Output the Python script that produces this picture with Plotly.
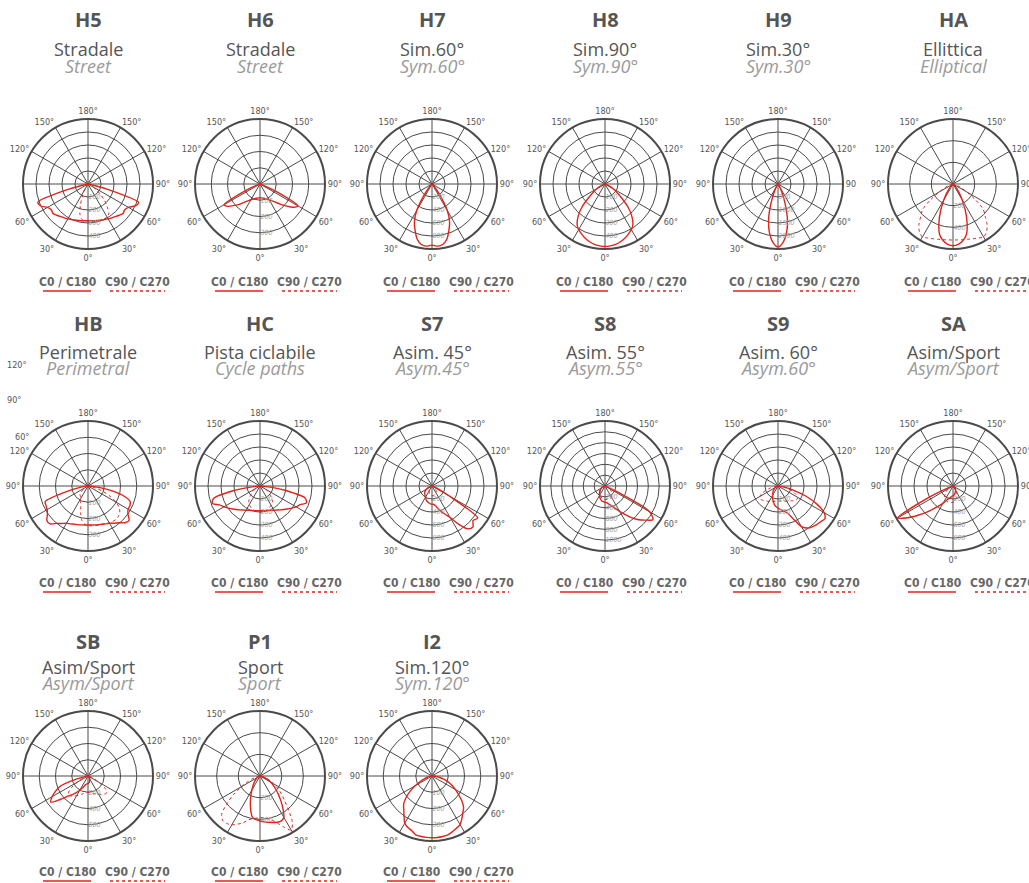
import plotly.graph_objects as go

# ---------------- data ----------------
GAMMA = [0, 5, 10, 15, 20, 25, 30, 35, 40, 45, 50, 55, 60, 65, 70, 75, 80, 85, 90]

CODES = ["H5", "H6", "H7", "H8", "H9", "HA", "HB", "HC", "S7", "S8", "S9", "SA", "SB", "P1", "I2"]
NAMES_IT = ["Stradale", "Stradale", "Sim.60°", "Sim.90°", "Sim.30°", "Ellittica",
            "Perimetrale", "Pista ciclabile", "Asim. 45°", "Asim. 55°", "Asim. 60°", "Asim/Sport",
            "Asim/Sport", "Sport", "Sim.120°"]
NAMES_EN = ["Street", "Street", "Sym.60°", "Sym.90°", "Sym.30°", "Elliptical",
            "Perimetral", "Cycle paths", "Asym.45°", "Asym.55°", "Asym.60°", "Asym/Sport",
            "Asym/Sport", "Sport", "Sym.120°"]
R_MAX = [500, 400, 1000, 500, 2500, 600, 400, 500, 1000, 1200, 500, 1000, 800, 600, 400]
R_TICKS = [[100, 200, 300, 400], [100, 200, 300], [200, 400, 600, 800], [100, 200, 300, 400],
           [500, 1000, 1500, 2000], [200, 400], [100, 200, 300], [100, 200, 300, 400],
           [200, 400, 600, 800], [200, 400, 600, 800, 1000], [100, 200, 300, 400],
           [200, 400, 600, 800], [200, 400, 600], [200, 400], [100, 200, 300]]

ANG_TICKS = [0, 30, 60, 90, 120, 150, 180, 210, 240, 270, 300, 330]
ANG_LABELS = ["0°", "30°", "60°", "90°", "120°", "150°", "180°", "150°", "120°", "90°", "60°", "30°"]
ANG_LABELS_H5 = ["0°", "30°", "60°", "90°", "120°", "150°", "180°", "150°", "120°", "", "60°", "30°"]
ANG_LABELS_H9 = ["0°", "30°", "60°", "90", "120°", "150°", "180°", "150°", "120°", "90°", "60°", "30°"]

# intensity (cd/klm) per gamma; C0 = right half, C180 = left half, C90 right, C270 left
H5_C0 = [282, 284, 287, 290, 295, 302, 310, 318, 328, 340, 352, 345, 360, 400, 415, 150, 20, 5, 0]
H5_C180 = [282, 284, 287, 290, 295, 302, 310, 318, 328, 340, 352, 345, 360, 400, 410, 150, 20, 5, 0]
H5_C90 = [287, 290, 292, 295, 297, 296, 292, 280, 230, 180, 125, 80, 45, 25, 10, 4, 0, 0, 0]
H5_C270 = [287, 282, 275, 240, 170, 100, 60, 35, 20, 10, 5, 2, 0, 0, 0, 0, 0, 0, 0]

H6_C0 = [85, 86, 88, 91, 96, 103, 112, 125, 145, 175, 210, 250, 270, 115, 15, 0, 0, 0, 0]
H6_C180 = [85, 86, 88, 91, 96, 103, 112, 125, 145, 175, 205, 240, 255, 110, 15, 0, 0, 0, 0]

H7_C0 = [940, 960, 945, 880, 760, 640, 470, 220, 80, 30, 10, 0, 0, 0, 0, 0, 0, 0, 0]
H8_C0 = [481, 478, 472, 460, 445, 425, 405, 375, 320, 250, 165, 110, 70, 35, 15, 5, 0, 0, 0]
H9_C0 = [2420, 2250, 1900, 1400, 800, 350, 150, 60, 20, 0, 0, 0, 0, 0, 0, 0, 0, 0, 0]

HA_C0 = [570, 560, 530, 480, 380, 270, 170, 100, 55, 25, 10, 0, 0, 0, 0, 0, 0, 0, 0]
HA_C90 = [517, 518, 522, 528, 538, 550, 565, 540, 490, 420, 365, 250, 150, 85, 45, 20, 5, 0, 0]

HB_C0 = [240, 241, 243, 246, 250, 257, 265, 280, 295, 320, 330, 300, 285, 285, 275, 220, 120, 40, 0]
HB_C180 = [240, 241, 243, 246, 250, 257, 265, 282, 300, 330, 330, 305, 290, 285, 280, 150, 50, 10, 0]
HB_C90 = [245, 246, 248, 250, 252, 256, 262, 266, 268, 265, 255, 235, 200, 150, 100, 50, 15, 0, 0]
HB_C270 = [245, 235, 215, 175, 130, 110, 90, 80, 75, 70, 50, 35, 25, 15, 10, 5, 0, 0, 0]

HC_C0 = [190, 191, 192, 196, 200, 207, 215, 226, 240, 256, 275, 296, 320, 340, 380, 360, 200, 50, 0]
HC_C180 = [190, 191, 192, 196, 200, 207, 215, 226, 240, 256, 275, 296, 320, 345, 390, 370, 210, 50, 0]
HC_C90 = [200, 198, 196, 193, 190, 180, 170, 160, 150, 120, 95, 75, 60, 40, 20, 10, 0, 0, 0]
HC_C270 = [200, 198, 195, 190, 185, 175, 165, 150, 130, 105, 80, 60, 40, 25, 12, 5, 0, 0, 0]

S7_C0 = [280, 285, 310, 360, 420, 480, 560, 720, 860, 890, 825, 860, 300, 80, 20, 0, 0, 0, 0]
S7_C180 = [280, 275, 265, 255, 240, 220, 200, 185, 170, 158, 145, 125, 100, 70, 40, 20, 10, 0, 0]
S7_C90 = [150, 150, 148, 145, 140, 130, 120, 110, 100, 80, 60, 50, 40, 25, 15, 5, 0, 0, 0]
S7_C270 = [150, 148, 140, 130, 120, 105, 90, 80, 70, 55, 45, 30, 20, 10, 5, 0, 0, 0, 0]

S8_C0 = [300, 310, 330, 360, 400, 460, 540, 640, 760, 880, 980, 1080, 950, 200, 30, 0, 0, 0, 0]
S8_C180 = [300, 295, 285, 270, 250, 230, 205, 180, 160, 140, 120, 100, 80, 60, 40, 20, 5, 0, 0]
S8_C90 = [250, 250, 248, 245, 240, 230, 220, 205, 190, 170, 150, 120, 90, 60, 30, 10, 0, 0, 0]
S8_C270 = [250, 248, 240, 230, 215, 200, 180, 160, 140, 120, 100, 80, 60, 40, 20, 5, 0, 0, 0]

S9_C0 = [175, 180, 190, 205, 225, 280, 360, 395, 410, 420, 428, 440, 410, 330, 230, 120, 50, 10, 0]
S9_C180 = [170, 160, 150, 130, 115, 100, 80, 70, 60, 50, 40, 32, 25, 18, 10, 5, 0, 0, 0]
S9_C90 = [115, 116, 118, 122, 125, 130, 137, 143, 150, 160, 170, 178, 175, 150, 120, 80, 40, 10, 0]
S9_C270 = [115, 116, 118, 122, 125, 130, 137, 143, 150, 158, 165, 172, 160, 140, 100, 60, 25, 10, 0]

SA_C0 = [150, 145, 130, 115, 100, 90, 80, 70, 60, 50, 40, 30, 20, 10, 5, 0, 0, 0, 0]
SA_C180 = [150, 155, 170, 190, 210, 250, 300, 370, 450, 570, 700, 850, 980, 380, 80, 20, 0, 0, 0]
SA_C90 = [250, 240, 220, 200, 180, 150, 120, 100, 80, 60, 40, 25, 15, 5, 0, 0, 0, 0, 0]
SA_C270 = [250, 255, 260, 260, 255, 245, 230, 215, 200, 170, 140, 110, 80, 50, 25, 10, 0, 0, 0]

SB_C0 = [90, 85, 80, 70, 60, 50, 40, 32, 25, 20, 15, 12, 10, 5, 3, 0, 0, 0, 0]
SB_C180 = [90, 95, 100, 110, 130, 160, 200, 250, 300, 350, 450, 560, 510, 440, 360, 150, 40, 0, 0]
SB_C90 = [200, 203, 210, 220, 230, 245, 260, 275, 290, 310, 300, 250, 150, 90, 50, 25, 10, 0, 0]
SB_C270 = [200, 203, 210, 225, 240, 260, 280, 300, 320, 340, 310, 250, 150, 90, 50, 25, 10, 0, 0]

P1_C0 = [415, 425, 435, 445, 455, 460, 440, 370, 300, 240, 190, 150, 115, 80, 50, 30, 15, 5, 0]
P1_C180 = [415, 405, 390, 330, 260, 200, 150, 115, 90, 70, 50, 35, 25, 15, 10, 5, 0, 0, 0]
P1_C90 = [380, 390, 400, 420, 460, 520, 575, 520, 410, 320, 260, 200, 140, 100, 60, 35, 15, 5, 0]
P1_C270 = [380, 390, 400, 420, 460, 490, 520, 535, 535, 500, 400, 300, 200, 130, 70, 40, 20, 5, 0]

I2_C0 = [380, 380, 378, 375, 365, 355, 345, 320, 295, 275, 240, 200, 165, 135, 105, 75, 45, 20, 0]
I2_C180 = [380, 379, 378, 377, 360, 350, 335, 300, 270, 247, 210, 165, 120, 80, 50, 30, 15, 5, 0]

# (C0, C180, C90, C270) per chart; None = plane not drawn separately
CURVES = [
    (H5_C0, H5_C180, H5_C90, H5_C270),
    (H6_C0, H6_C180, None, None),
    (H7_C0, H7_C0, None, None),
    (H8_C0, H8_C0, None, None),
    (H9_C0, H9_C0, None, None),
    (HA_C0, HA_C0, HA_C90, HA_C90),
    (HB_C0, HB_C180, HB_C90, HB_C270),
    (HC_C0, HC_C180, HC_C90, HC_C270),
    (S7_C0, S7_C180, S7_C90, S7_C270),
    (S8_C0, S8_C180, S8_C90, S8_C270),
    (S9_C0, S9_C180, S9_C90, S9_C270),
    (SA_C0, SA_C180, SA_C90, SA_C270),
    (SB_C0, SB_C180, SB_C90, SB_C270),
    (P1_C0, P1_C180, P1_C90, P1_C270),
    (I2_C0, I2_C180, None, None),
]

# ---------------- layout geometry (pixels in the browser window) ----------------
W, H = 1029, 883
COL_X = [88, 260, 432, 605, 778, 953]
ROW_Y = [184, 486, 776]
CODE_Y = [20, 323, 641]
IT_Y = [49, 352, 667]
EN_Y = [66, 368, 683]
LEG_Y = [282, 583, 872]
RAD = 65

RED = "#e2231a"
DARK = "#4a4a4a"
GREY = "#555555"
COND = "DejaVu Sans Condensed, Liberation Sans Narrow, sans-serif"

fig = go.Figure()
annotations = []
shapes = []


def px(x):
    return x / W


def py(y):
    return 1 - y / H


def label(x, y, text, font):
    return dict(x=px(x), y=py(y), xref="paper", yref="paper", text=text, showarrow=False,
                xanchor="center", yanchor="middle", font=font)


for i, code in enumerate(CODES):
    row, col = divmod(i, 6)
    cx, cy = COL_X[col], ROW_Y[row]
    pid = "polar" if i == 0 else f"polar{i + 1}"
    c0, c180, c90, c270 = CURVES[i]

    theta_s = [-g for g in reversed(GAMMA)] + GAMMA[1:]
    r_s = list(reversed(c180)) + c0[1:]
    fig.add_trace(go.Scatterpolar(
        r=r_s, theta=theta_s, mode="lines", subplot=pid, showlegend=False,
        line=dict(color=RED, width=1.4, shape="spline", smoothing=0.8), hoverinfo="skip"))
    if c90 is not None:
        r_d = list(reversed(c270)) + c90[1:]
        fig.add_trace(go.Scatterpolar(
            r=r_d, theta=theta_s, mode="lines", subplot=pid, showlegend=False,
            line=dict(color=RED, width=1, dash="dot", shape="spline", smoothing=0.8),
            hoverinfo="skip"))

    ang_text = ANG_LABELS_H5 if code == "H5" else (ANG_LABELS_H9 if code == "H9" else ANG_LABELS)
    fig.layout[pid] = dict(
        domain=dict(x=[px(cx - RAD), px(cx + RAD)], y=[py(cy + RAD), py(cy - RAD)]),
        bgcolor="white",
        angularaxis=dict(
            rotation=-90, direction="counterclockwise",
            tickmode="array", tickvals=ANG_TICKS, ticktext=ang_text,
            showgrid=True, gridcolor=DARK, gridwidth=1,
            showline=True, linecolor=DARK, linewidth=2, ticks="",
            tickfont=dict(family=COND, size=9, color=GREY)),
        radialaxis=dict(
            range=[0, R_MAX[i]], tickmode="array", tickvals=R_TICKS[i],
            ticktext=[str(v) for v in R_TICKS[i]],
            showline=False, showgrid=True, gridcolor=DARK, gridwidth=1, ticks="",
            angle=-90, tickangle=-90, side="counterclockwise", layer="above traces",
            tickfont=dict(family=COND, size=7, color="#a0a0a0", style="italic")),
    )

    annotations.append(label(cx, CODE_Y[row], f"<b>{code}</b>",
                             dict(family="Open Sans, sans-serif", size=20, color=GREY)))
    annotations.append(label(cx, IT_Y[row], NAMES_IT[i],
                             dict(family="Open Sans, sans-serif", size=18, color=GREY)))
    annotations.append(label(cx, EN_Y[row], f"<i>{NAMES_EN[i]}</i>",
                             dict(family="Open Sans, sans-serif", size=18, color="#9a9a9a")))
    ly = LEG_Y[row]
    annotations.append(label(cx - 21, ly, "<b>C0 / C180</b>",
                             dict(family=COND, size=12, color="#666666")))
    annotations.append(label(cx + 49, ly, "<b>C90 / C270</b>",
                             dict(family=COND, size=12, color="#666666")))
    shapes.append(dict(type="line", xref="paper", yref="paper",
                       x0=px(cx - 45), x1=px(cx + 3), y0=py(ly + 9), y1=py(ly + 9),
                       line=dict(color=RED, width=1.5)))
    shapes.append(dict(type="line", xref="paper", yref="paper",
                       x0=px(cx + 22), x1=px(cx + 77), y0=py(ly + 9), y1=py(ly + 9),
                       line=dict(color=RED, width=1.5, dash="dot")))

# stray labels visible at the left edge of the second row
for txt, sx, sy in [("120°", 17, 365), ("90°", 14, 400), ("60°", 22, 437)]:
    annotations.append(label(sx, sy, txt, dict(family=COND, size=9, color=GREY)))

fig.update_layout(width=W, height=H, margin=dict(l=0, r=0, t=0, b=0),
                  paper_bgcolor="white", plot_bgcolor="white",
                  annotations=annotations, shapes=shapes, showlegend=False)

fig.write_html("out.html", config={"displayModeBar": False, "staticPlot": True},
               post_script="document.body.style.margin='0px';document.body.style.padding='0px';")
